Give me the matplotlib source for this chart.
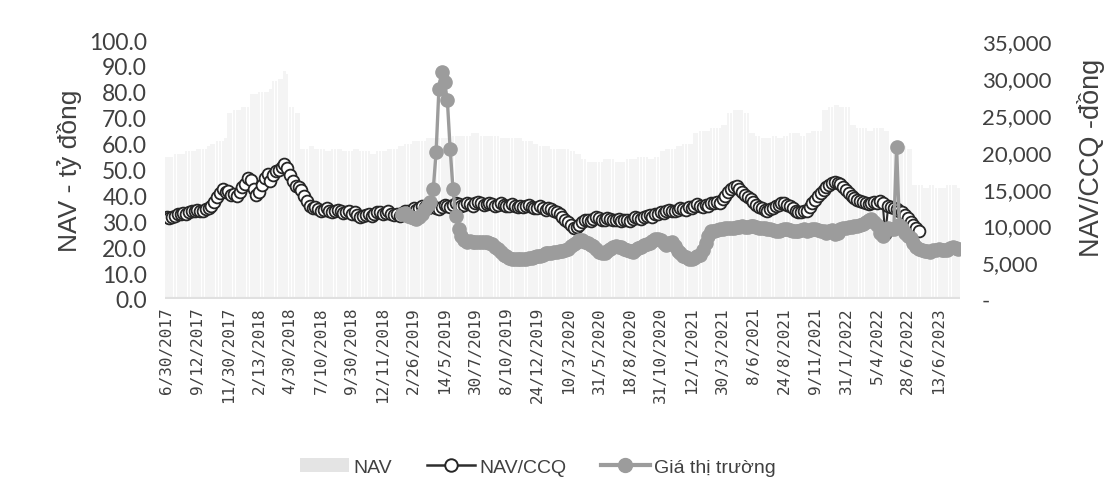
import numpy as np
import matplotlib
matplotlib.use("Agg")
import matplotlib.pyplot as plt
from matplotlib.ticker import FuncFormatter
from matplotlib.patches import Patch
from matplotlib.lines import Line2D

# ---------------- data (weekly points) ----------------
tick_labels = ["6/30/2017", "9/12/2017", "11/30/2017", "2/13/2018", "4/30/2018",
               "7/10/2018", "9/30/2018", "12/11/2018", "2/26/2019", "14/5/2019",
               "30/7/2019", "8/10/2019", "24/12/2019", "10/3/2020", "31/5/2020",
               "18/8/2020", "31/10/2020", "12/1/2021", "30/3/2021", "8/6/2021",
               "24/8/2021", "9/11/2021", "31/1/2022", "5/4/2022", "28/6/2022",
               "13/6/2023"]

nav = [55, 55, 55, 56, 56, 56, 56, 57, 57, 57, 57, 58, 58, 58, 58, 59,
       60, 60, 61, 61, 61, 62,
       72, 72, 73, 73, 73, 74, 74, 74,
       79, 79, 79, 80, 80, 80, 80, 81,
       84, 84, 85, 85,
       88, 87,
       74, 74, 72, 72,
       58, 58, 58, 59, 59, 58, 58, 58, 58, 57, 57, 58, 58, 58, 58, 57, 57, 57, 57, 58, 58, 57,
       57, 57, 57, 56, 56, 57, 57, 57, 57, 58, 58, 58, 58, 59, 59, 60, 60, 60,
       61, 61, 61, 61, 61, 62, 62, 62, 62, 62, 62, 62, 62, 63, 63, 63, 63, 63,
       63, 63, 63, 64, 64, 64, 63, 63, 63, 63, 63, 63, 63, 62, 62, 62, 62, 62,
       62, 62, 62, 61, 61, 61, 61, 60, 60, 59, 59, 59, 59, 58, 58, 58, 58, 58,
       58, 58, 57, 57, 56, 56,
       54, 54, 53, 53, 53, 53, 53, 53, 54, 54, 54, 54, 53, 53, 53, 53, 54, 54,
       54, 54, 55, 55, 55, 55, 54, 54, 55, 55,
       57, 57, 58, 58, 58, 58, 59, 59, 60, 60, 60, 60,
       64, 64, 65, 65, 65, 65, 66, 66, 66, 66, 67, 67,
       72, 72, 73, 73, 73, 73, 72, 72,
       64, 64, 63, 63,
       62, 62, 62, 62, 63, 63, 62, 62, 63, 63, 64, 64, 64, 64, 63, 63, 64, 64,
       65, 65, 65, 65,
       73, 73, 74, 74, 75, 75, 74, 74, 74, 74,
       67, 67, 66, 66, 66, 66, 65, 65, 66, 66, 66, 66, 65, 65,
       60, 60, 59, 59, 59, 59, 58, 58,
       44, 44, 44, 44, 43, 43, 44, 44, 43, 43, 43, 43, 44, 44, 44, 44, 43]

nan = float("nan")
nav_ccq = [
    11200, 11000, 11100, 11300, 11500, 11600, 11700, 11600, 11800, 11900,
    11900, 12100, 12000, 11900, 12200, 12400, 12700, 13200, 13800, 14400,
    14900, 14500, 14700, 14100, 14300, 14000, 14600, 15200, 15600, 16400,
    16200, 15000, 14200, 14600, 15500, 16500, 17000, 16000, 16800, 17400,
    17600, 18000, 18400, 17800, 16800, 16000, 15400, 15200, 14800, 14000,
    13300, 12600, 12300, 12500, 12200, 11900, 12100, 12300, 12000, 11800,
    11900, 12100, 11900, 11700, 11800, 11900, 11600, 11800, 11400, 11200,
    11300, 11400, 11500, 11300, 11600, 11800, 11800, 11600, 11700, 11900,
    11600, 11400, 11500, 11300, 11700, 11900, 12000, 11800, 12300, 12100,
    12400, 12600, 12500, 12300, 12500, 12700, 12400, 12200, 12500, 12800,
    12700, 12500, 12800, 13000, 12900, 12700, 12800, 13000, 12900, 12700,
    13000, 13200, 13000, 12800, 12900, 13100, 12900, 12700, 12800, 13000,
    12800, 12600, 12700, 12900, 12600, 12500, 12700, 12500, 12600, 12800,
    12500, 12300, 12400, 12600, 12300, 12100, 12300, 12200, 12000, 11800,
    11500, 11100, 10800, 10400, 10000, 9600, 9800, 10100, 10500, 10700,
    10800, 10600, 10900, 11100, 11000, 10800, 10800, 11000, 10900, 10700,
    10800, 10900, 10600, 10800, 10700, 10600, 10900, 11100, 11000, 10900,
    11200, 11300, 11400, 11200, 11600, 11500, 11800, 11700, 11900, 12100,
    12000, 11900, 12100, 12300, 12200, 12100, 12500, 12400, 12700, 12900,
    12600, 12500, 12800, 12700, 13000, 13100, 13200, 13000, 13600, 14000,
    14500, 15000, 15200, 15400, 15000, 14600, 14200, 13900, 13600, 13200,
    12800, 12500, 12300, 12100, 12000, 12200, 12400, 12600, 12800, 13000,
    13000, 12800, 12600, 12300, 12000, 11800, 11800, 11900, 12000, 12500,
    13000, 13500, 14000, 14400, 14800, 15200, 15500, 15700, 15900, 15800,
    15600, 15200, 14800, 14400, 14000, 13700, 13500, 13300, 13200, 13000,
    12900, 13100, 13200, 13000, 13300, 13100,
    8800, 12600, 12500, 12300, 12200, 12000, 11800, 11400, 11000, 10500,
    10000, 9600, 9300,
    nan, nan, nan, nan, nan, nan, nan, nan, nan, nan, nan, nan, nan, nan]

gia_thi_truong = [nan] * 84 + [
    11500, 11700, 11300, 11100, 11000, 10900, 11200, 11600, 12200, 12800,
    13200, 15000, 20000, 28600, 30900, 29500, 27000, 20400, 15000, 11300,
    9500, 8600,
    8000, 7800, 7900, 7700, 7700, 7800, 7800, 7700, 7700, 7600,
    7500, 7100, 6800, 6400, 6000, 5800, 5600, 5500, 5400, 5400,
    5400, 5500, 5500, 5600, 5600, 5700, 5800, 5900, 6000, 6200,
    6300, 6300, 6400, 6400, 6500, 6500, 6600, 6800, 7200, 7500,
    7800, 8000, 8000, 7800, 7600, 7400, 7200, 6800, 6400, 6300,
    6300, 6500, 6800, 7000, 7200, 7100, 7000, 6800, 6600, 6500,
    6400, 6600, 6900, 7100, 7400, 7500, 7600, 7900, 8200, 8200,
    8000, 7600, 7400, 7600, 7800, 7200, 6500, 6200, 5900, 5700,
    5500, 5500, 5600, 5800, 6000, 6700, 7600, 8500, 9300, 9300,
    9400, 9500, 9500, 9600, 9600, 9700, 9700, 9800, 9800, 9900,
    9800, 9800, 9900, 9900, 9800, 9700, 9600, 9600, 9500, 9500,
    9400, 9300, 9300, 9400, 9500, 9500, 9400, 9300, 9200, 9300,
    9400, 9500, 9300, 9400, 9500, 9500, 9400, 9300, 9200, 9000,
    9300, 9400, 8800, 9000, 9500, 9600, 9700, 9800, 9800, 9900,
    9900, 10100, 10200, 10500, 10700, 10900, 10500, 10000, 9000, 8600,
    9500, 9600, 9500, 9500, 20700, 10000, 9600, 9000, 8600, 8300,
    7600, 7000, 6800, 6600, 6500, 6500, 6400, 6600, 6700, 6800,
    6700, 6600, 6700, 6900, 7000, 6900, 6800]

# ---------------- figure ----------------
TXT = "#404040"
plt.rcParams['font.family'] = ['Lato', 'DejaVu Sans']
fig = plt.figure(figsize=(11.16, 5.02), dpi=100)
ax = fig.add_axes([0.148, 0.4024, 0.712, 0.5159])
ax2 = ax.twinx()

n = len(nav)
x = np.arange(n)
ax.bar(x, nav, width=0.85, color="#f4f4f4", zorder=1)
ax.axhline(0, color="#e0e0e0", lw=3, zorder=2)

ax2.plot(x, nav_ccq, color="#2e2e2e", lw=1.5, marker="o", ms=8.5,
         mfc="white", mec="#262626", mew=1.3, zorder=3)
ax2.plot(x, gia_thi_truong, color="#9c9c9c", lw=2.4, marker="o", ms=9.5,
         mfc="#9c9c9c", mec="#9c9c9c", zorder=4)

ax.set_xlim(-0.5, n - 0.5)
ax.set_ylim(0, 100)
ax2.set_ylim(0, 35200)

ax.set_yticks(np.arange(0, 101, 10))
ax.yaxis.set_major_formatter(FuncFormatter(lambda v, p: f"{v:.1f}"))
ax2.set_yticks(np.arange(0, 35001, 5000))
ax2.yaxis.set_major_formatter(FuncFormatter(lambda v, p: "-" if v == 0 else f"{int(v):,}"))

tick_pos = [11 * i for i in range(len(tick_labels))]
ax.set_xticks(tick_pos)
ax.set_xticklabels(tick_labels, rotation=90, family="DejaVu Sans Mono",
                   fontsize=11.5, color=TXT)

for a in (ax, ax2):
    for s in a.spines.values():
        s.set_visible(False)
    a.tick_params(length=0)
ax.tick_params(axis="y", labelsize=16.5, labelcolor=TXT, pad=13)
ax2.tick_params(axis="y", labelsize=16, labelcolor=TXT, pad=16)
ax.tick_params(axis="x", pad=5)

ax.set_ylabel("NAV - tỷ đồng", fontsize=19, color=TXT,
              family=["Liberation Sans", "DejaVu Sans"])
ax.yaxis.set_label_coords(-0.105, 0.5)
ax2.set_ylabel("NAV/CCQ -đồng", fontsize=19.5, color=TXT,
               family=["Liberation Sans", "DejaVu Sans"])
ax2.yaxis.set_label_coords(1.148, 0.55)

handles = [Patch(facecolor="#e4e4e4", edgecolor="none"),
           Line2D([], [], color="#2e2e2e", lw=1.8, marker="o", ms=9,
                  mfc="white", mec="#262626", mew=1.4),
           Line2D([], [], color="#9c9c9c", lw=3, marker="o", ms=10,
                  mfc="#9c9c9c", mec="#9c9c9c")]
fig.legend(handles, ["NAV", "NAV/CCQ", "Giá thị trường"], loc="center",
           bbox_to_anchor=(0.482, 0.068), ncol=3, frameon=False,
           prop={"family": ["Liberation Sans", "DejaVu Sans"], "size": 14},
           handlelength=2.5, columnspacing=1.8, handletextpad=0.2,
           labelcolor=TXT)

fig.savefig("out.png", dpi=100)
